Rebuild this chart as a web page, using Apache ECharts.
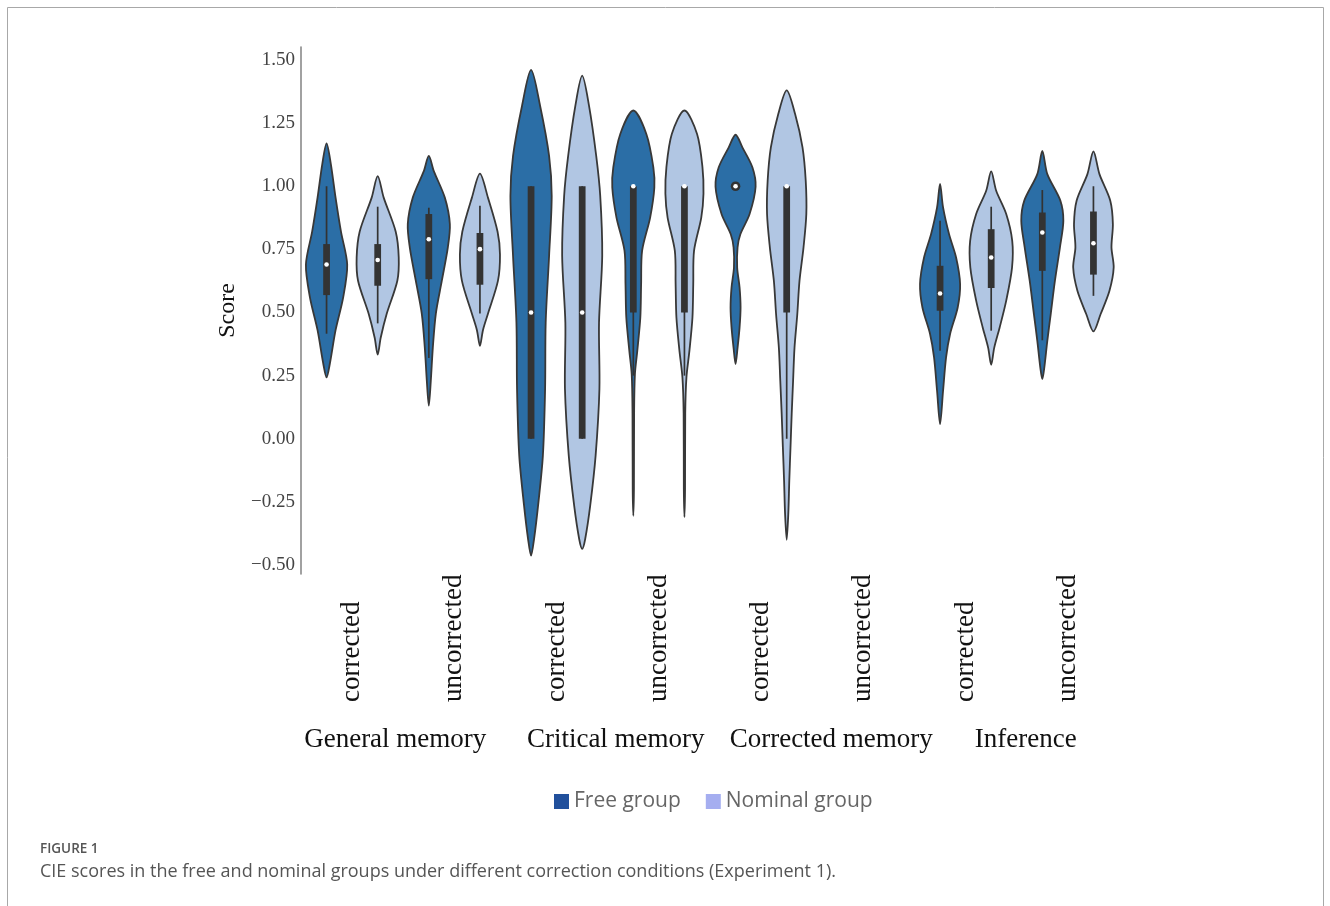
<!DOCTYPE html>
<html>
<head>
<meta charset="utf-8">
<script src="https://cdn.jsdelivr.net/npm/echarts@6/dist/echarts.min.js"></script>
<style>
  html, body { margin: 0; padding: 0; background: #ffffff; }
  #chart { width: 1330px; height: 906px; }
</style>
</head>
<body>
<div id="chart"></div>
<script>
// Condition of each x slot and the measure each pair of slots belongs to
const conditions = ['corrected', 'uncorrected', 'corrected', 'uncorrected',
                    'corrected', 'uncorrected', 'corrected', 'uncorrected'];
const measures = ['General memory', 'Critical memory', 'Corrected memory', 'Inference'];
const yTicks = [-0.5, -0.25, 0, 0.25, 0.5, 0.75, 1, 1.25, 1.5];
const groupNames = ['Free group', 'Nominal group'];

// Violin outlines: [score, relative density], from top tip to bottom tip (null = no data)
const freeShapes = [
  [[1.17, 0], [1.09, 0.21], [0.955, 0.45], [0.82, 0.72], [0.69, 1.03], [0.56, 0.83], [0.43, 0.45], [0.30, 0.17], [0.243, 0]],
  [[1.12, 0], [1.06, 0.25], [0.955, 0.8], [0.85, 1.05], [0.758, 0.95], [0.626, 0.65], [0.495, 0.35], [0.36, 0.2], [0.23, 0.1], [0.131, 0]],
  [[1.461, 0], [1.319, 0.45], [1.12, 0.9], [0.962, 1.03], [0.725, 0.9], [0.46, 0.73], [0.197, 0.7], [-0.067, 0.59], [-0.265, 0.35], [-0.397, 0.15], [-0.463, 0]],
  [[1.30, 0], [1.207, 0.65], [1.075, 1.0], [0.995, 1.05], [0.876, 0.84], [0.745, 0.44], [0.613, 0.39], [0.48, 0.35], [0.349, 0.2], [0.256, 0.08], [0.1, 0.04], [-0.2, 0.03], [-0.305, 0]],
  [[1.204, 0], [1.154, 0.34], [1.075, 0.84], [0.998, 1.0], [0.89, 0.7], [0.81, 0.24], [0.758, 0.1], [0.678, 0.08], [0.6, 0.2], [0.52, 0.25], [0.44, 0.2], [0.36, 0.1], [0.296, 0]],
  null,
  [[1.009, 0], [0.916, 0.15], [0.81, 0.45], [0.718, 0.8], [0.613, 1.0], [0.52, 0.88], [0.415, 0.5], [0.322, 0.3], [0.19, 0.15], [0.058, 0]],
  [[1.14, 0], [1.048, 0.25], [0.943, 0.9], [0.863, 1.05], [0.758, 0.88], [0.626, 0.63], [0.494, 0.42], [0.388, 0.25], [0.282, 0.1], [0.236, 0]]
];
const nominalShapes = [
  [[1.04, 0], [0.955, 0.3], [0.82, 0.9], [0.718, 1.05], [0.626, 0.98], [0.495, 0.45], [0.40, 0.15], [0.333, 0]],
  [[1.05, 0], [0.955, 0.4], [0.82, 0.88], [0.73, 1.0], [0.626, 0.9], [0.495, 0.4], [0.43, 0.15], [0.368, 0]],
  [[1.438, 0], [1.319, 0.34], [1.12, 0.7], [0.962, 0.9], [0.725, 1.0], [0.46, 0.84], [0.197, 0.86], [-0.067, 0.67], [-0.265, 0.4], [-0.397, 0.15], [-0.436, 0]],
  [[1.30, 0], [1.207, 0.63], [1.075, 0.9], [0.97, 0.95], [0.876, 0.84], [0.745, 0.48], [0.613, 0.44], [0.48, 0.4], [0.349, 0.25], [0.243, 0.1], [0.1, 0.04], [-0.2, 0.03], [-0.31, 0]],
  [[1.38, 0], [1.286, 0.42], [1.154, 0.79], [1.022, 0.95], [0.89, 0.98], [0.758, 0.84], [0.626, 0.64], [0.494, 0.53], [0.36, 0.39], [0.23, 0.32], [0.098, 0.25], [-0.034, 0.19], [-0.166, 0.13], [-0.298, 0.08], [-0.40, 0]],
  null,
  [[1.059, 0], [0.982, 0.25], [0.89, 0.75], [0.784, 1.05], [0.678, 1.04], [0.547, 0.75], [0.44, 0.42], [0.36, 0.15], [0.293, 0]],
  [[1.138, 0], [1.048, 0.3], [0.943, 0.84], [0.85, 0.97], [0.758, 0.9], [0.678, 1.01], [0.586, 0.8], [0.494, 0.36], [0.425, 0]]
];

// Inner box statistics: [lower whisker, Q1, median, Q3, upper whisker]
const freeBoxes = [
  [0.416, 0.569, 0.69, 0.771, 1.0],
  [0.32, 0.632, 0.79, 0.89, 0.915],
  [0, 0, 0.5, 1, 1],
  [0.25, 0.5, 1, 1, 1],
  [1, 1, 1, 1, 1],
  null,
  [0.349, 0.507, 0.575, 0.685, 0.863],
  [0.39, 0.665, 0.817, 0.896, 0.985]
];
const nominalBoxes = [
  [0.457, 0.606, 0.708, 0.771, 0.919],
  [0.496, 0.61, 0.751, 0.815, 0.923],
  [0, 0, 0.5, 1, 1],
  [0.25, 0.5, 1, 1, 1],
  [0, 0.5, 1, 1, 1],
  null,
  [0.428, 0.597, 0.718, 0.83, 0.919],
  [0.566, 0.65, 0.774, 0.9, 1.0]
];

const SERIF = '"Liberation Serif", "Times New Roman", serif';
const SANS = '"Open Sans", "Noto Sans", sans-serif';
const OUTLINE = '#383838';
const BOX = '#333333';

function violinRenderer(shapes, boxes, offset, fill) {
  return function (params, api) {
    const cat = api.value(0);
    const shape = shapes[cat];
    const box = boxes[cat];
    if (!shape) return null;
    const band = api.size([1, 0])[0];
    const cx = api.coord([cat, 0])[0] + offset * band;
    const halfScale = band * 0.196;
    const y = v => api.coord([cat, v])[1];
    const right = shape.map(p => [cx + p[1] * halfScale, y(p[0])]);
    const left = shape.slice(1, -1).reverse().map(p => [cx - p[1] * halfScale, y(p[0])]);
    const children = [{
      type: 'polygon',
      shape: { points: right.concat(left), smooth: 0.3 },
      style: { fill: fill, stroke: OUTLINE, lineWidth: 1.8 }
    }];
    if (box) {
      const [wl, q1, med, q3, wh] = box;
      if (wh > wl) {
        children.push({
          type: 'line',
          shape: { x1: cx, y1: y(wh), x2: cx, y2: y(wl) },
          style: { stroke: BOX, lineWidth: 1.7 }
        });
      }
      if (q3 > q1) {
        const w = band * 0.066;
        children.push({
          type: 'rect',
          shape: { x: cx - w / 2, y: y(q3), width: w, height: y(q1) - y(q3) },
          style: { fill: BOX }
        });
      } else {
        children.push({
          type: 'circle',
          shape: { cx: cx, cy: y(med), r: 4.8 },
          style: { fill: BOX }
        });
      }
      children.push({
        type: 'circle',
        shape: { cx: cx, cy: y(med), r: 2.3 },
        style: { fill: '#ffffff' }
      });
    }
    return { type: 'group', children: children };
  };
}

function seriesData(shapes, boxes) {
  const out = [];
  shapes.forEach((s, i) => { if (s) out.push([i, boxes[i][2]]); });
  return out;
}

const chart = echarts.init(document.getElementById('chart'), null, { renderer: 'canvas' });

const groupLabel = pad => ({ fontFamily: SERIF, fontSize: 27, color: '#111111', padding: pad });

chart.setOption({
  backgroundColor: '#ffffff',
  animation: false,
  grid: { left: 301, right: 211, top: 47, bottom: 332, containLabel: false },
  legend: {
    data: groupNames,
    left: 549,
    top: 786,
    icon: 'rect',
    itemWidth: 15,
    itemHeight: 15,
    itemGap: 25,
    textStyle: { fontFamily: SANS, fontSize: 21, color: '#666666' }
  },
  xAxis: [{
    type: 'category',
    data: conditions,
    boundaryGap: true,
    axisLine: { show: false },
    axisTick: { show: false },
    axisLabel: {
      rotate: 90,
      margin: 1,
      interval: 0,
      formatter: v => '{c|' + v + '}',
      rich: {
        c: { width: 127, align: 'left', fontFamily: SERIF, fontSize: 27, color: '#111111' }
      }
    }
  }, {
    type: 'category',
    data: measures,
    position: 'bottom',
    boundaryGap: true,
    axisLine: { show: false },
    axisTick: { show: false },
    axisLabel: {
      interval: 0,
      margin: 152,
      formatter: (v, i) => '{m' + i + '|' + v + '}',
      rich: {
        m0: groupLabel([0, 16, 0, 0]),
        m1: groupLabel([0, 0, 0, 16]),
        m2: groupLabel([0, 0, 0, 38]),
        m3: groupLabel([0, 0, 0, 18])
      }
    }
  }],
  yAxis: {
    type: 'value',
    min: -0.5356,
    max: 1.5515,
    name: 'Score',
    nameLocation: 'middle',
    nameGap: 57,
    nameRotate: 90,
    nameTextStyle: { fontFamily: SERIF, fontSize: 24, color: '#111111' },
    splitLine: { show: false },
    axisTick: { show: false },
    axisLine: { show: true, lineStyle: { color: '#8a8a8a', width: 1.6 } },
    axisLabel: {
      customValues: yTicks,
      margin: 6,
      fontFamily: SERIF,
      fontSize: 19,
      color: '#444444',
      formatter: v => (v < 0 ? '\u2212' : '') + Math.abs(v).toFixed(2)
    }
  },
  series: [{
    name: groupNames[0],
    type: 'custom',
    xAxisIndex: 0,
    itemStyle: { color: '#21509c' },
    encode: { x: 0, y: 1 },
    data: seriesData(freeShapes, freeBoxes),
    renderItem: violinRenderer(freeShapes, freeBoxes, -0.25, '#2b6ea6')
  }, {
    name: groupNames[1],
    type: 'custom',
    xAxisIndex: 0,
    itemStyle: { color: '#a5aef0' },
    encode: { x: 0, y: 1 },
    data: seriesData(nominalShapes, nominalBoxes),
    renderItem: violinRenderer(nominalShapes, nominalBoxes, 0.25, '#b1c6e3')
  }],
  graphic: [{
    type: 'rect',
    silent: true,
    shape: { x: 7.5, y: 7.5, width: 1316, height: 960 },
    style: { fill: 'none', stroke: '#a8a8a8', lineWidth: 1 }
  }, {
    type: 'text',
    left: 40,
    top: 842,
    style: { text: 'FIGURE 1', fontFamily: SANS, fontSize: 13.5, fontWeight: 600, fill: '#555555' }
  }, {
    type: 'text',
    left: 40,
    top: 863,
    style: {
      text: 'CIE scores in the free and nominal groups under different correction conditions (Experiment 1).',
      fontFamily: SANS, fontSize: 18, fill: '#555555'
    }
  }]
});
</script>
</body>
</html>
